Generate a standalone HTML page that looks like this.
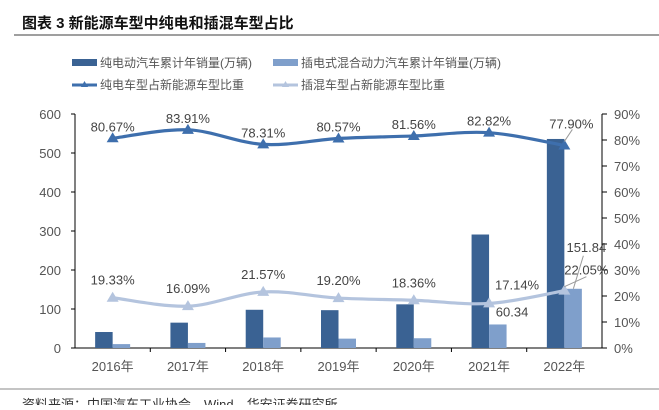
<!DOCTYPE html>
<html><head><meta charset="utf-8"><style>
body{margin:0;background:#fff;width:659px;height:405px;overflow:hidden;font-family:"Liberation Sans","Noto Sans CJK SC",sans-serif}
text{font-family:"Liberation Sans","Noto Sans CJK SC",sans-serif}
</style></head><body>
<svg id="c" width="659" height="405" xmlns="http://www.w3.org/2000/svg">
<text x="22" y="28" font-size="15" font-weight="bold" fill="#111">图表 3   新能源车型中纯电和插混车型占比</text>
<line x1="14" y1="35" x2="659" y2="35" stroke="#666" stroke-width="1.2"/>
<g font-size="12" fill="#555">
<rect x="72" y="59" width="25" height="7" fill="#3a6293"/>
<text x="100" y="67">纯电动汽车累计年销量(万辆)</text>
<rect x="273" y="59" width="25" height="7" fill="#7f9fcb"/>
<text x="301" y="67">插电式混合动力汽车累计年销量(万辆)</text>
<line x1="72" y1="85" x2="97" y2="85" stroke="#3e6fad" stroke-width="3"/><path d="M84.5,81 L88,87 L81,87Z" fill="#3e6fad"/>
<text x="100" y="89">纯电车型占新能源车型比重</text>
<line x1="273" y1="85" x2="298" y2="85" stroke="#b4c4de" stroke-width="3"/><path d="M285.5,81 L289,87 L282,87Z" fill="#b4c4de"/>
<text x="301" y="89">插混车型占新能源车型比重</text>
</g>
<g id="plot"></g>
<line x1="0" y1="389" x2="659" y2="389" stroke="#888" stroke-width="1"/>
<text x="22" y="409" font-size="13" fill="#333">资料来源：中国汽车工业协会，Wind，华安证券研究所</text>
</svg>
<script>
const categories=["2016年","2017年","2018年","2019年","2020年","2021年","2022年"];
const bevSales=[41,65,98,97,112,291,536];
const phevSales=[10,13,27,24,25,60.34,151.84];
const bevShare=[80.67,83.91,78.31,80.57,81.56,82.82,77.90];
const phevShare=[19.33,16.09,21.57,19.20,18.36,17.14,22.05];
const leftTicks=[0,100,200,300,400,500,600];
const rightTicks=[0,10,20,30,40,50,60,70,80,90];
const NS="http://www.w3.org/2000/svg";
const g=document.getElementById('plot');
const X0=75,X1=602,Y0=348,Y1=114,n=categories.length,bw=(X1-X0)/n;
const yL=v=>Y0-(v/600)*(Y0-Y1), yR=v=>Y0-(v/90)*(Y0-Y1), cx=i=>X0+bw*(i+0.5);
function el(t,a,p){const e=document.createElementNS(NS,t);for(const k in a)e.setAttribute(k,a[k]);(p||g).appendChild(e);return e;}
leftTicks.forEach(v=>{el('line',{x1:X0-4,x2:X0,y1:yL(v),y2:yL(v),stroke:'#000'});const t=el('text',{x:X0-14,y:yL(v)+5,'font-size':13,fill:'#555','text-anchor':'end'});t.textContent=v;

});
rightTicks.forEach(v=>{el('line',{x1:X1,x2:X1+5,y1:yR(v),y2:yR(v),stroke:'#000'});const t=el('text',{x:X1+12,y:yR(v)+5,'font-size':13,fill:'#555'});t.textContent=v+'%';

});
el('line',{x1:X0,x2:X0,y1:Y1,y2:Y0,stroke:'#000'});
el('line',{x1:X1,x2:X1,y1:Y1,y2:Y0,stroke:'#000'});
el('line',{x1:X0,x2:X1,y1:Y0,y2:Y0,stroke:'#000'});
for(let i=1;i<n;i++)el('line',{x1:X0+bw*i,x2:X0+bw*i,y1:Y0,y2:Y0+4,stroke:'#000'});
categories.forEach((c,i)=>{
const b=el('rect',{x:cx(i)-17.5,y:yL(bevSales[i]),width:17.5,height:Y0-yL(bevSales[i]),fill:'#3a6293'});


const p=el('rect',{x:cx(i),y:yL(phevSales[i]),width:17.5,height:Y0-yL(phevSales[i]),fill:'#7f9fcb'});


const t=el('text',{x:cx(i),y:371,'font-size':13,fill:'#555','text-anchor':'middle'});t.textContent=c;


});
function smooth(vals){const pts=vals.map((v,i)=>[cx(i),yR(v)]);let d='M'+pts[0];for(let i=0;i<pts.length-1;i++){const p0=pts[i-1]||pts[i],p1=pts[i],p2=pts[i+1],p3=pts[i+2]||p2;
d+=' C'+(p1[0]+(p2[0]-p0[0])/6)+','+(p1[1]+(p2[1]-p0[1])/6)+' '+(p2[0]-(p3[0]-p1[0])/6)+','+(p2[1]-(p3[1]-p1[1])/6)+' '+p2;}return d;}
[[bevShare,'#3e6fad','bev'],[phevShare,'#b4c4de','phev']].forEach(([vals,col,nm])=>{
const l=el('path',{d:smooth(vals),fill:'none',stroke:col,'stroke-width':3.2});


vals.forEach((v,i)=>{const x=cx(i),y=yR(v);
const m=el('path',{d:`M${x},${y-6} L${x+6},${y+4} L${x-6},${y+4}Z`,fill:col});


const last=i===n-1;
let tx=x,ty=nm==='bev'?y-7:y-13;
if(last&&nm==='bev'){tx=x+7;ty=y-17;}
if(last&&nm==='phev'){tx=x+22;ty=y-16;}
if(i===5&&nm==='phev'){tx=x+28;ty=y-14;}
const t=el('text',{x:tx,y:ty,'font-size':13,fill:'#444','text-anchor':'middle'});t.textContent=v.toFixed(2)+'%';


if(last)el('line',{x1:x,y1:y-4,x2:x+(nm==='bev'?8:22),y2:y-(nm==='bev'?16:14),stroke:'#999'});
});});
[[5,phevSales[5]],[6,phevSales[6]]].forEach(([i,v])=>{const x=cx(i)+9;const t=el('text',{x:i===6?x+13:x+14,y:i===6?yL(v)-37:yL(v)-8,'font-size':13,fill:'#444','text-anchor':'middle'});t.textContent=v.toFixed(2);


if(i===6)el('line',{x1:x,y1:yL(v),x2:x+10,y2:yL(v)-33,stroke:'#999'});});
</script>
</body></html>
